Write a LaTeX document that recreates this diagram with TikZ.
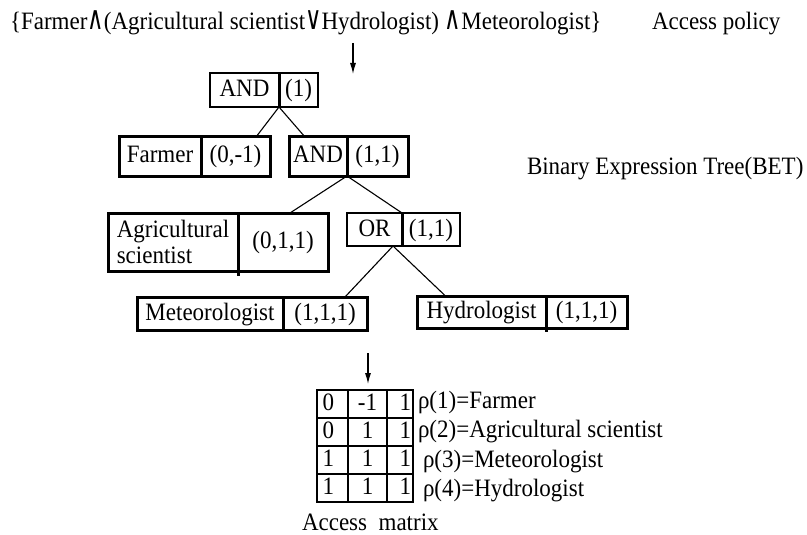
\documentclass[tikz,border=0pt]{standalone}
\usepackage{fontspec}
\usepackage{graphicx}
\setmainfont{Liberation Serif}[FakeStretch=0.92]
\newfontfamily\symfont{DejaVu Sans}
\usetikzlibrary{arrows.meta}
\newcommand{\myand}{\scalebox{0.9}[1.3]{\symfont ∧}}
\newcommand{\myor}{\scalebox{0.9}[1.3]{\symfont ∨}}
\tikzset{
  base/.style={inner sep=0pt, outer sep=0pt, font=\fontsize{25}{26}\selectfont},
  part0/.style={base, anchor=north west, align=center},
  part/.style={part0, text height=18pt, text depth=5pt},
  frameA/.style={line width=3pt},
  frameB/.style={line width=1.8pt},
  divider/.style={line width=3pt},
  edge/.style={line width=1.1pt},
  arr/.style={line width=1.1pt, -{Latex[length=11pt,width=6pt]}},
  cell/.style={base, draw, line width=1.2pt, minimum width=#1, minimum height=28pt,
               text height=17pt, text depth=5pt},
}
\begin{document}
\begin{tikzpicture}[x=1pt,y=-1pt]
\useasboundingbox (0,0) rectangle (807,535);

% texts
\node[base, anchor=base west] (policy) at (10,30)
  {\{Farmer\myand(Agricultural scientist\myor Hydrologist) \myand Meteorologist\}};
\node[base, anchor=base west] (apol) at (652,30) {Access policy};
\node[base, anchor=base west] (bet) at (527,175) {Binary Expression Tree(BET)};

% boxes
\node[part, minimum width=69pt, minimum height=34pt] (and1L) at (210,73) {AND};
\node[part, minimum width=39pt, minimum height=34pt] (and1R) at (and1L.north east) {(1)};

\node[part, minimum width=82pt, minimum height=39pt] (farL) at (119,137) {Farmer};
\node[part, minimum width=69pt, minimum height=39pt] (farR) at (farL.north east) {(0,-1)};

\node[part, minimum width=58pt, minimum height=39pt] (and2L) at (289,137) {AND};
\node[part, minimum width=61pt, minimum height=39pt] (and2R) at (and2L.north east) {(1,1)};

\node[part0, minimum width=130pt, minimum height=58pt, align=left] (agL) at (108,213) {Agricultural\\scientist};
\node[part, minimum width=90pt, minimum height=58pt] (agR) at (agL.north east) {(0,1,1)};

\node[part, minimum width=55pt, minimum height=33pt] (orL) at (347,213) {OR};
\node[part, minimum width=58pt, minimum height=33pt] (orR) at (orL.north east) {(1,1)};

\node[part, minimum width=146pt, minimum height=33pt] (metL) at (137,297) {Meteorologist};
\node[part, minimum width=84pt, minimum height=33pt] (metR) at (metL.north east) {(1,1,1)};

\node[part, minimum width=129pt, minimum height=32pt] (hydL) at (417,296) {Hydrologist};
\node[part, minimum width=81pt, minimum height=32pt] (hydR) at (hydL.north east) {(1,1,1)};

% connectors
\draw[edge] (and1L.south east) -- ([xshift=20.5pt]farR.north);
\draw[edge] (and1L.south east) -- ([xshift=-13pt]and2L.north);
\draw[edge] (and2L.south east) -- ([xshift=7pt]agR.north);
\draw[edge] (and2L.south east) -- (orL.north east);
\draw[edge] ([xshift=18.5pt]orL.south) -- ([xshift=20pt]metR.north);
\draw[edge] ([xshift=18.5pt]orL.south) -- ([xshift=-36pt]hydL.north);

% frames
\draw[frameB] (and1L.north west) rectangle (and1R.south east);
\draw[divider] (and1L.north east) -- (and1L.south east);
\draw[frameA] (farL.north west) rectangle (farR.south east);
\draw[divider] (farL.north east) -- (farL.south east);
\draw[frameA] (and2L.north west) rectangle (and2R.south east);
\draw[divider] (and2L.north east) -- (and2L.south east);
\draw[frameA] (agL.north west) rectangle (agR.south east);
\draw[divider] (agL.north east) -- ([yshift=-5pt]agL.south east);
\draw[frameB] (orL.north west) rectangle (orR.south east);
\draw[divider] (orL.north east) -- (orL.south east);
\draw[frameA] (metL.north west) rectangle (metR.south east);
\draw[divider] (metL.north east) -- (metL.south east);
\draw[frameA] (hydL.north west) rectangle (hydR.south east);
\draw[divider] (hydL.north east) -- ([yshift=-4pt]hydL.south east);

% arrows
\coordinate (a1s) at (353,43);
\coordinate (a1e) at (353,74);
\draw[arr] (a1s) -- (a1e);
\coordinate (a2s) at (368,353);
\coordinate (a2e) at (368,384);
\draw[arr] (a2s) -- (a2e);

% matrix
\foreach \r/\y/\a/\b/\c in {1/404/0/-1/1, 2/432/0/1/1, 3/460/1/1/1, 4/488/1/1/1}{
  \node[cell=31pt, text width=20pt, align=left] (m\r1) at (332.5,\y) {\a};
  \node[cell=39pt, align=center] (m\r2) at (367.5,\y) {\b};
  \node[cell=26pt, text width=22pt, align=right] (m\r3) at (400,\y) {\c};
}
\node[base, anchor=base west] (r1) at (418,408) {ρ(1)=Farmer};
\node[base, anchor=base west] (r2) at (418,437) {ρ(2)=Agricultural scientist};
\node[base, anchor=base west] (r3) at (423,467) {ρ(3)=Meteorologist};
\node[base, anchor=base west] (r4) at (423,496) {ρ(4)=Hydrologist};
\node[base, anchor=base west] (amat) at (302,530) {Access\ \ matrix};
\end{tikzpicture}
\end{document}
